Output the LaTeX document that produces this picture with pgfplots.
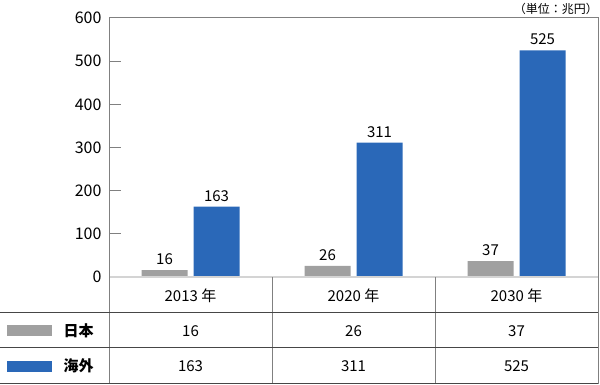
\documentclass[border=0pt]{standalone}
\usepackage{pgfplots}
\pgfplotsset{compat=1.18}
\usepackage{pgfplotstable}
\usepackage{fontspec}
\setmainfont{Noto Sans CJK JP}
\definecolor{jpgray}{RGB}{160,160,160}
\definecolor{osblue}{RGB}{42,104,184}
\definecolor{axgray}{RGB}{128,128,128}
\definecolor{zerogray}{RGB}{212,212,212}
\definecolor{tabline}{RGB}{70,70,70}

\pgfplotstableread{
x japan overseas
0 16 163
1 26 311
2 37 525
}\data

\begin{document}
\begin{tikzpicture}[x=1pt,y=1pt]
\path[use as bounding box] (0,0) rectangle (600,385);
\begin{axis}[
 scale only axis, width=489pt, height=259pt,
 at={(109pt,108pt)}, anchor=south west,
 xmin=-0.5, xmax=2.5, ymin=0, ymax=600,
 axis line style={draw=none},
 xtick={0,1,2}, xticklabels={2013 年,2020 年,2030 年},
 x tick style={draw=none},
 xticklabel style={anchor=center, yshift=-19pt, font=\fontsize{15}{18}\selectfont},
 ytick={0,100,...,600},
 ytick pos=left, tick align=inside, major tick length=12pt,
 y tick style={axgray, line width=1pt},
 yticklabel style={font=\fontsize{16}{19}\selectfont, xshift=-4pt},
 /pgf/number format/assume math mode=true,
 clip=false,
 nodes near coords,
 every node near coord/.append style={font=\fontsize{15}{18}\selectfont, black, anchor=south, inner sep=2pt, yshift=3pt},
]
\addplot[ybar, bar width=46pt, bar shift=-26pt, fill=jpgray, draw=none,
  every node near coord/.append style={xshift=-26pt}] table[x=x,y=japan]{\data};
\addplot[ybar, bar width=46pt, bar shift=26pt, fill=osblue, draw=none,
  every node near coord/.append style={xshift=26pt}] table[x=x,y=overseas]{\data};
\end{axis}
% frame and table lines
\draw[zerogray, line width=1.5pt] (109,108) -- (598,108);
\draw[axgray, line width=1pt] (109,367) -- (598,367) -- (598,1);
\draw[axgray, line width=1pt] (109,367) -- (109,1);
\draw[axgray, line width=1pt] (272,108) -- (272,1);
\draw[axgray, line width=1pt] (435,108) -- (435,1);
\draw[tabline, line width=1pt] (0,72) -- (598,72);
\draw[tabline, line width=1pt] (0,37) -- (598,37);
\draw[tabline, line width=1pt] (0,1) -- (598,1);
% legend swatches and row labels
\fill[jpgray] (7,49) rectangle (52,60);
\fill[osblue] (7,13) rectangle (52,24);
\node[anchor=west, font=\fontsize{15}{18}\selectfont\bfseries] at (60,54) {日本};
\node[anchor=west, font=\fontsize{15}{18}\selectfont\bfseries] at (60,19) {海外};
% table values
\begin{scope}[every node/.style={font=\fontsize{15}{18}\selectfont}]
\node at (190.5,54) {16};
\node at (353.5,54) {26};
\node at (516.5,54) {37};
\node at (190.5,19) {163};
\node at (353.5,19) {311};
\node at (516.5,19) {525};
\end{scope}
\node[anchor=east, font=\fontsize{12}{14}\selectfont, inner sep=0pt] at (598,376) {（単位：兆円）};
\end{tikzpicture}
\end{document}
